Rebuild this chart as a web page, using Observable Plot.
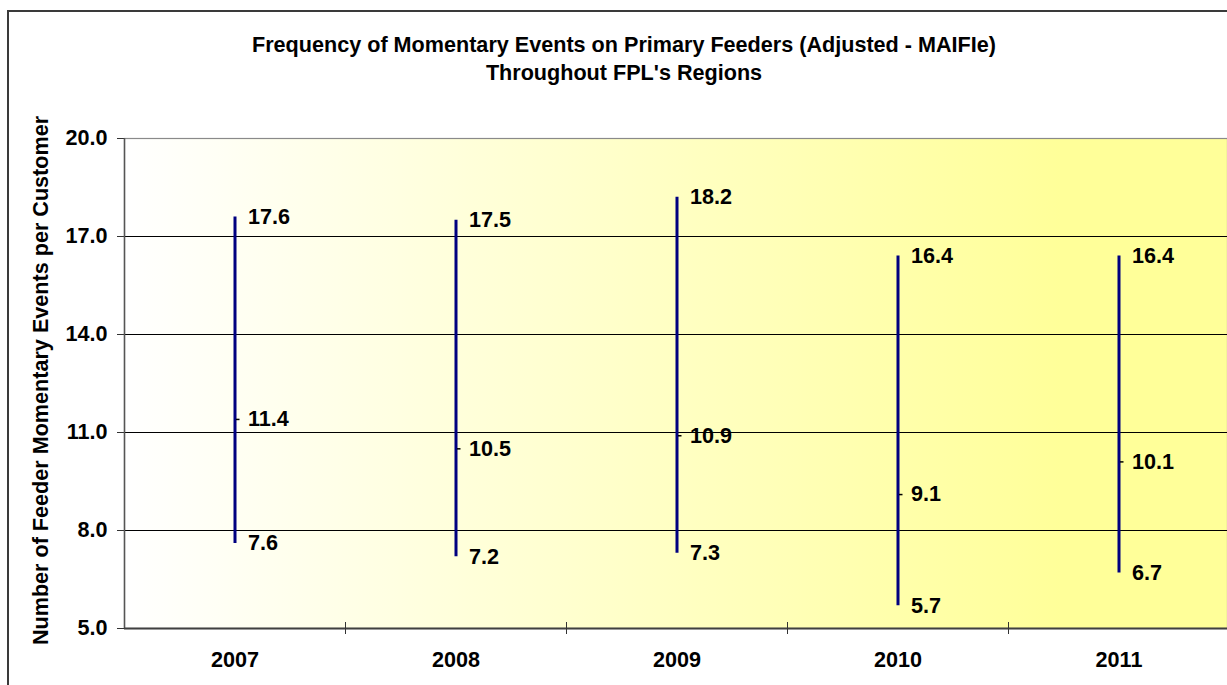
<!DOCTYPE html>
<html>
<head>
<meta charset="utf-8">
<script src="https://cdn.jsdelivr.net/npm/d3@7"></script>
<script src="https://cdn.jsdelivr.net/npm/@observablehq/plot@0.6"></script>
<style>
  html, body { margin: 0; padding: 0; background: #fff; }
  #wrap { position: relative; width: 1227px; height: 685px; overflow: hidden; background: #fff;
          font-family: "Liberation Sans", Arial, sans-serif; }
  #border { position: absolute; left: 7px; top: 10px; width: 1300px; height: 800px;
            border: 2px solid #3a3a3a; box-sizing: border-box; }
  #title { position: absolute; left: 0; top: 31px; width: 1248px; text-align: center;
           font-weight: bold; font-size: 21.6px; line-height: 28px; color: #000; }
  #chart { position: absolute; left: 0; top: 0; }
</style>
</head>
<body>
<div id="wrap">
  <div id="border"></div>
  <div id="chart"></div>
  <div id="title">Frequency of Momentary Events on Primary Feeders (Adjusted - MAIFIe)<br>Throughout FPL's Regions</div>
</div>
<script>
const years = ["2007", "2008", "2009", "2010", "2011"];
const high  = [17.6, 17.5, 18.2, 16.4, 16.4];
const mean  = [11.4, 10.5, 10.9, 9.1, 10.1];
const low   = [7.6, 7.2, 7.3, 5.7, 6.7];
const yTicks = [5, 8, 11, 14, 17, 20];
const gridValues = [8, 11, 14, 17];
const yTitle = "Number of Feeder Momentary Events per Customer";

const data = years.map((year, i) => ({ year, pos: i + 0.5, high: high[i], mean: mean[i], low: low[i] }));
const boundaries = d3.range(1, years.length);
const fmt = d3.format(".1f");
const FS = "21.6px";

const plot = Plot.plot({
  width: 1227,
  height: 685,
  marginLeft: 124,
  marginRight: 0,
  marginTop: 138,
  marginBottom: 57,
  style: { fontFamily: "'Liberation Sans', Arial, sans-serif", fontWeight: "bold", fontSize: FS, background: "transparent", color: "#000", overflow: "visible" },
  x: { type: "linear", domain: [0, years.length], range: [124, 1229], axis: null },
  y: { domain: [5, 20], axis: null },
  marks: [
    Plot.frame({ fill: "url(#plotGrad)", stroke: "#8a8a8a", strokeWidth: 1.2 }),
    Plot.ruleY(gridValues, { stroke: "#000", strokeWidth: 1 }),
    Plot.axisY({ ticks: yTicks, tickFormat: fmt, tickSize: 7, tickPadding: 10, fontSize: FS, fontWeight: "bold", stroke: "#333", label: null }),
    Plot.ruleX([0], { stroke: "#555", strokeWidth: 1.5 }),
    Plot.ruleY([5], { stroke: "#404040", strokeWidth: 1.8 }),
    Plot.ruleX(boundaries, { x: d => d, y1: 5, y2: 5, insetTop: 6, insetBottom: 6, stroke: "#333", strokeWidth: 1 }),
    Plot.text(data, { x: "pos", y: 5, text: "year", dy: 32, fontSize: FS, fontWeight: "bold", textAnchor: "middle", lineAnchor: "middle" }),
    Plot.text([yTitle], { frameAnchor: "left", rotate: -90, dx: -83, dy: -3, fontSize: FS, fontWeight: "bold", text: d => d, textAnchor: "middle", lineAnchor: "middle" }),
    Plot.ruleX(data, { x: "pos", y1: "low", y2: "high", stroke: "#000080", strokeWidth: 3 }),
    Plot.ruleY(data, { y: "mean", x1: "pos", x2: "pos", insetLeft: 1.5, insetRight: -5, stroke: "#000", strokeWidth: 1.5 }),
    Plot.text(data, { x: "pos", y: "high", text: d => fmt(d.high), dx: 13, textAnchor: "start", lineAnchor: "middle", fontSize: FS, fontWeight: "bold" }),
    Plot.text(data, { x: "pos", y: "mean", text: d => fmt(d.mean), dx: 13, textAnchor: "start", lineAnchor: "middle", fontSize: FS, fontWeight: "bold" }),
    Plot.text(data, { x: "pos", y: "low", text: d => fmt(d.low), dx: 13, textAnchor: "start", lineAnchor: "middle", fontSize: FS, fontWeight: "bold" })
  ]
});

const grad = d3.select(plot).insert("defs", ":first-child")
  .append("linearGradient").attr("id", "plotGrad")
  .attr("x1", "0").attr("y1", "0").attr("x2", "1").attr("y2", "0");
grad.append("stop").attr("offset", "0").attr("stop-color", "#FFFFFF");
grad.append("stop").attr("offset", "0.85").attr("stop-color", "#FFFF99");
grad.append("stop").attr("offset", "1").attr("stop-color", "#FFFF99");

document.getElementById("chart").appendChild(plot);
</script>
</body>
</html>
